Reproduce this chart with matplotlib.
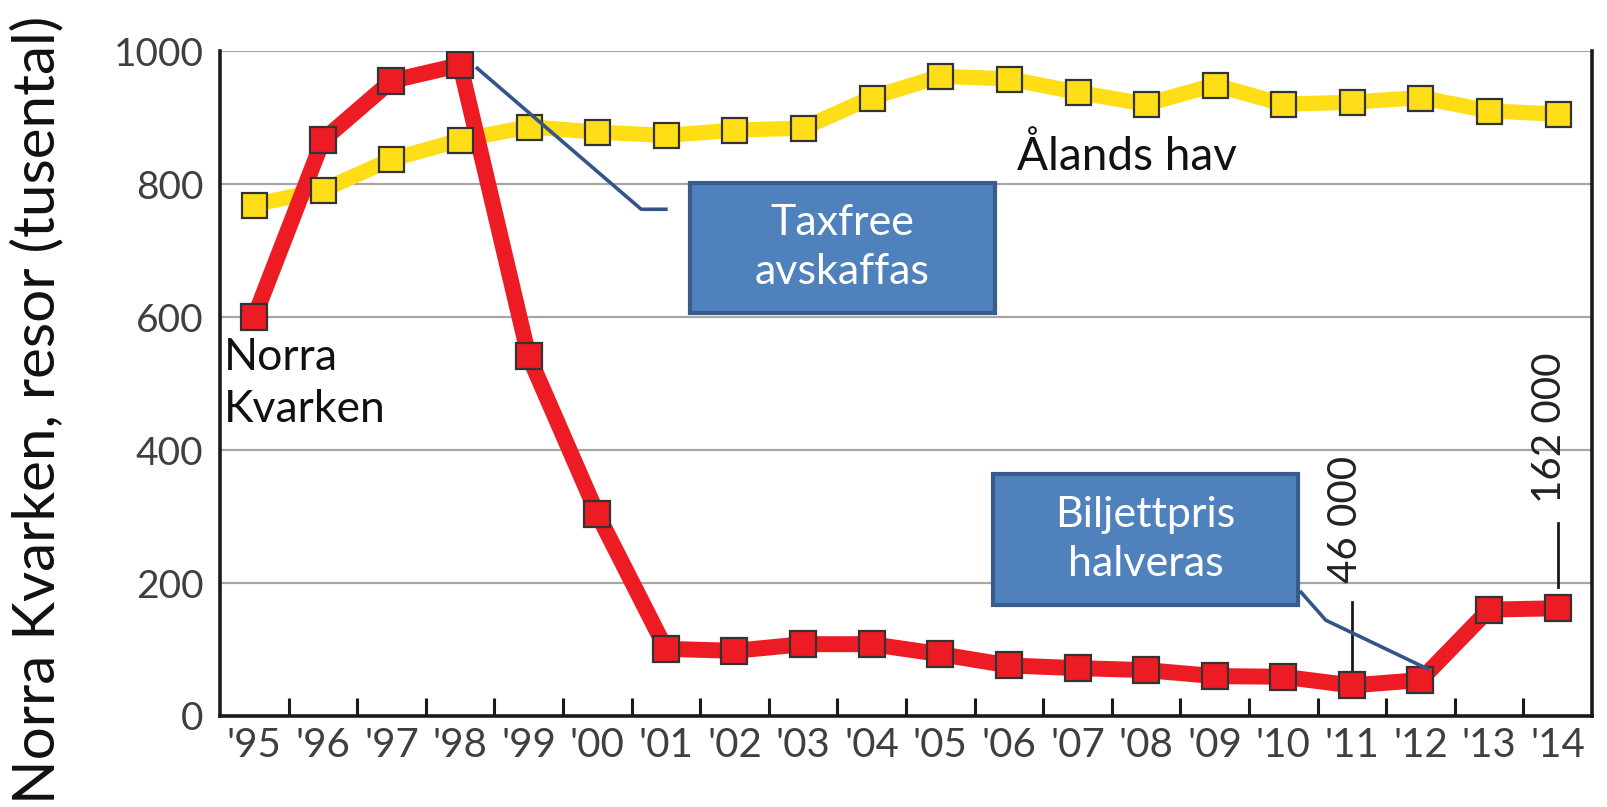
import numpy as np
import matplotlib.pyplot as plt
from matplotlib.patches import Rectangle

# data (thousand trips)
years = ["'95", "'96", "'97", "'98", "'99", "'00", "'01", "'02", "'03", "'04",
         "'05", "'06", "'07", "'08", "'09", "'10", "'11", "'12", "'13", "'14"]
norra_kvarken = [600, 866, 955, 979, 541, 304, 101, 98, 108, 108,
                 93, 76, 72, 69, 60, 59, 46, 54, 160, 162]
alands_hav = [769, 791, 837, 866, 886, 878, 873, 881, 884, 930,
              962, 958, 938, 920, 949, 920, 923, 930, 910, 905]
yticks = [0, 200, 400, 600, 800, 1000]

plt.rcParams['font.family'] = ['Lato', 'DejaVu Sans']

fig = plt.figure(figsize=(16.08, 8.07), dpi=100)
ax = fig.add_axes([220/1608, 1-716/807, (1592-220)/1608, (716-51)/807])

x = np.arange(len(years))

# lines
ax.plot(x, alands_hav, color='#FFDD17', lw=11, solid_joinstyle='round', zorder=2)
ax.plot(x, norra_kvarken, color='#ED1C24', lw=11.5, solid_joinstyle='round', zorder=3)
# markers
ax.plot(x, alands_hav, ls='none', marker='s', ms=18, mfc='#FFDD17', mec='#333333', mew=1.6, zorder=5)
ax.plot(x, norra_kvarken, ls='none', marker='s', ms=18.5, mfc='#ED1C24', mec='#333333', mew=1.6, zorder=5)

ax.set_xlim(-0.5, len(years) - 0.5)
ax.set_ylim(0, 1000)

# axes styling
ax.spines['top'].set_visible(False)
for s in ['left', 'bottom', 'right']:
    ax.spines[s].set_linewidth(2.6)
    ax.spines[s].set_color('#1a1a1a')
ax.set_yticks(yticks)
ax.set_yticklabels([str(v) for v in yticks])
ax.tick_params(axis='y', length=0, pad=12, labelsize=28, labelcolor='#3F3F3F')
for v in yticks[1:]:
    ax.axhline(v, color='#A6A6A6', lw=1.6, zorder=1)

ax.set_xticks(x)
ax.set_xticklabels(years)
ax.set_xticks(np.arange(0.5, len(years) - 1, 1), minor=True)
ax.tick_params(axis='x', which='major', length=0, pad=8, labelsize=29, labelcolor='#3F3F3F')
ax.tick_params(axis='x', which='minor', direction='in', length=13, width=2.2, color='#1a1a1a')

# y label
fig.text(38/1608, 1-410/807, 'Norra Kvarken, resor (tusental)', rotation=90,
         ha='center', va='center', fontsize=42, color='#111111')

# series names
ax.text(-0.44, 570, 'Norra\nKvarken', fontsize=32, ha='left', va='top', linespacing=1.32, color='#111111', zorder=6)
ax.text(11.12, 821, 'Ålands hav', fontsize=33, ha='left', va='baseline', color='#111111', zorder=6)

# Taxfree box
ax.plot([3.25, 5.64, 6.0], [974, 762, 762], color='#34558A', lw=2.6, zorder=6)
ax.add_patch(Rectangle((6.35, 606), 10.80 - 6.35, 801 - 606, facecolor='#4F81BD',
                       edgecolor='#385D8A', lw=3, zorder=7))
ax.text(8.57, 704, 'Taxfree\navskaffas', fontsize=31, color='white', ha='center', va='center',
        linespacing=1.35, zorder=8)

# Biljettpris box
ax.plot([15.26, 15.62, 17.1], [186, 144, 71], color='#34558A', lw=2.6, zorder=6)
ax.add_patch(Rectangle((10.77, 167), 15.21 - 10.77, 364 - 167, facecolor='#4F81BD',
                       edgecolor='#385D8A', lw=3, zorder=7))
ax.text(12.99, 265, 'Biljettpris\nhalveras', fontsize=31, color='white', ha='center', va='center',
        linespacing=1.35, zorder=8)

# value labels
ax.plot([16, 16], [171, 59], color='#1a1a1a', lw=2, zorder=4)
ax.text(15.9, 296, '46 000', rotation=90, fontsize=29, ha='center', va='center', color='#222222')
ax.plot([19, 19], [290, 194], color='#1a1a1a', lw=2, zorder=4)
ax.text(18.88, 434, '162 000', rotation=90, fontsize=29, ha='center', va='center', color='#222222')

fig.savefig('out.png', dpi=100)
